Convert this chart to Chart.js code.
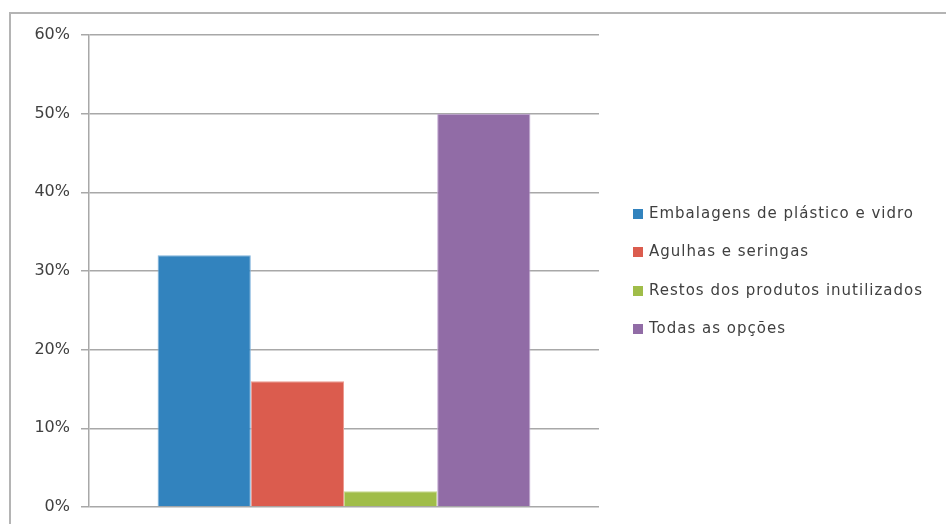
<!DOCTYPE html>
<html>
<head>
<meta charset="utf-8">
<script src="https://cdn.jsdelivr.net/npm/chart.js@4"></script>
<style>
    html, body { margin: 0; padding: 0; background: #fff; }
    body { width: 946px; height: 524px; position: relative; overflow: hidden; }
    .frame {
        position: absolute; left: 9px; top: 12px; width: 960px; height: 540px;
        border-left: 2px solid #b4b4b4; border-top: 2px solid #b4b4b4;
        box-sizing: border-box;
    }
    #wasteChart { position: absolute; left: 0; top: 0; }
    #wasteLegend {
        position: absolute; left: 633px; top: 194px; margin: 0; padding: 0;
        list-style: none; font-family: "DejaVu Sans", sans-serif; font-size: 15px;
        letter-spacing: 1px; color: #404040;
    }
    #wasteLegend li { height: 38.4px; line-height: 38px; white-space: nowrap; }
    #wasteLegend .dot {
        display: inline-block; width: 10px; height: 10px; margin-right: 6px; vertical-align: -1px;
    }
</style>
</head>
<body>
<div class="frame"></div>
<canvas id="wasteChart" width="946" height="524"></canvas>
<ul id="wasteLegend"></ul>
<script>
// ===== Data =====
const categories = [""];
const seriesNames = [
    "Embalagens de plástico e vidro",
    "Agulhas e seringas",
    "Restos dos produtos inutilizados",
    "Todas as opções"
];
const seriesValues = [0.32, 0.16, 0.02, 0.50];
const seriesColors = ["#3283be", "#db5c4e", "#a0bd49", "#916ca6"];
const seriesEdges = ["#7fb3dc", "#ec9a90", "#c6da8f", "#c2a8d2"];
const tickValues = [0, 0.1, 0.2, 0.3, 0.4, 0.5, 0.6];

const gridColor = "#a8a8a8";
const textColor = "#404040";

const datasets = seriesNames.map((name, i) => ({
    label: name,
    data: [seriesValues[i]],
    backgroundColor: seriesColors[i],
    borderColor: seriesEdges[i],
    borderWidth: 1,
    categoryPercentage: 0.731,
    barPercentage: 1
}));

new Chart(document.getElementById("wasteChart"), {
    type: "bar",
    data: { labels: categories, datasets: datasets },
    options: {
        responsive: false,
        animation: false,
        events: [],
        layout: { padding: { top: 35, right: 347, bottom: 17, left: 0 } },
        plugins: {
            legend: { display: false },
            tooltip: { enabled: false }
        },
        scales: {
            x: { display: false },
            y: {
                min: 0,
                max: 0.6,
                afterBuildTicks: axis => { axis.ticks = tickValues.map(v => ({ value: v })); },
                // fixed axis width; the outer padding alone sets the plot top/bottom
                afterFit: axis => {
                    axis.width = 89;
                    axis.paddingTop = 0;
                    axis.paddingBottom = 0;
                },
                ticks: {
                    color: textColor,
                    padding: 11,
                    font: { family: "DejaVu Sans", size: 16 },
                    callback: v => Math.round(v * 100) + "%"
                },
                grid: { color: gridColor, lineWidth: 1.5, tickLength: 8 },
                border: { color: gridColor, width: 1.5 }
            }
        }
    }
});

// ===== Legend with square markers =====
const legendEl = document.getElementById("wasteLegend");
seriesNames.forEach((name, i) => {
    const li = document.createElement("li");
    li.innerHTML = `<span class="dot" style="background:${seriesColors[i]}"></span>${name}`;
    legendEl.appendChild(li);
});
</script>
</body>
</html>
